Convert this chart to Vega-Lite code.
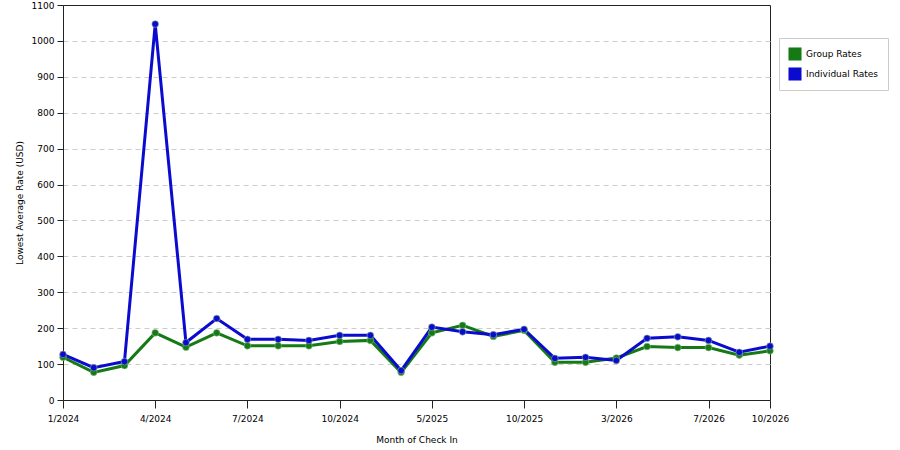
{
  "$schema": "https://vega.github.io/schema/vega-lite/v6.json",
  "width": 707,
  "height": 395,
  "autosize": "none",
  "padding": {"left": 63, "top": 5, "right": 130, "bottom": 50},
  "background": "white",
  "config": {
    "font": "DejaVu Sans",
    "view": {"stroke": "#222222", "strokeWidth": 1},
    "axis": {"labelFont": "DejaVu Sans", "titleFont": "DejaVu Sans", "labelFontSize": 9, "titleFontSize": 9, "titleFontWeight": "normal", "labelColor": "#000000", "titleColor": "#000000", "domainColor": "#222222", "tickColor": "#222222"}
  },
  "data": {
    "values": [
      {"month": "1/2024", "series": "Group Rates", "rate": 119},
      {"month": "2/2024", "series": "Group Rates", "rate": 77},
      {"month": "3/2024", "series": "Group Rates", "rate": 96},
      {"month": "4/2024", "series": "Group Rates", "rate": 187},
      {"month": "5/2024", "series": "Group Rates", "rate": 147},
      {"month": "6/2024", "series": "Group Rates", "rate": 187},
      {"month": "7/2024", "series": "Group Rates", "rate": 151},
      {"month": "8/2024", "series": "Group Rates", "rate": 151},
      {"month": "9/2024", "series": "Group Rates", "rate": 151},
      {"month": "10/2024", "series": "Group Rates", "rate": 163},
      {"month": "11/2024", "series": "Group Rates", "rate": 166},
      {"month": "4/2025", "series": "Group Rates", "rate": 77},
      {"month": "5/2025", "series": "Group Rates", "rate": 187},
      {"month": "6/2025", "series": "Group Rates", "rate": 208},
      {"month": "8/2025", "series": "Group Rates", "rate": 177},
      {"month": "10/2025", "series": "Group Rates", "rate": 194},
      {"month": "11/2025", "series": "Group Rates", "rate": 105},
      {"month": "1/2026", "series": "Group Rates", "rate": 105},
      {"month": "3/2026", "series": "Group Rates", "rate": 117},
      {"month": "4/2026", "series": "Group Rates", "rate": 149},
      {"month": "5/2026", "series": "Group Rates", "rate": 146},
      {"month": "7/2026", "series": "Group Rates", "rate": 146},
      {"month": "8/2026", "series": "Group Rates", "rate": 125},
      {"month": "10/2026", "series": "Group Rates", "rate": 137},
      {"month": "1/2024", "series": "Individual Rates", "rate": 127},
      {"month": "2/2024", "series": "Individual Rates", "rate": 90},
      {"month": "3/2024", "series": "Individual Rates", "rate": 107},
      {"month": "4/2024", "series": "Individual Rates", "rate": 1047},
      {"month": "5/2024", "series": "Individual Rates", "rate": 160},
      {"month": "6/2024", "series": "Individual Rates", "rate": 227},
      {"month": "7/2024", "series": "Individual Rates", "rate": 169},
      {"month": "8/2024", "series": "Individual Rates", "rate": 169},
      {"month": "9/2024", "series": "Individual Rates", "rate": 166},
      {"month": "10/2024", "series": "Individual Rates", "rate": 180},
      {"month": "11/2024", "series": "Individual Rates", "rate": 180},
      {"month": "4/2025", "series": "Individual Rates", "rate": 82},
      {"month": "5/2025", "series": "Individual Rates", "rate": 203},
      {"month": "6/2025", "series": "Individual Rates", "rate": 190},
      {"month": "8/2025", "series": "Individual Rates", "rate": 182},
      {"month": "10/2025", "series": "Individual Rates", "rate": 197},
      {"month": "11/2025", "series": "Individual Rates", "rate": 116},
      {"month": "1/2026", "series": "Individual Rates", "rate": 119},
      {"month": "3/2026", "series": "Individual Rates", "rate": 110},
      {"month": "4/2026", "series": "Individual Rates", "rate": 172},
      {"month": "5/2026", "series": "Individual Rates", "rate": 176},
      {"month": "7/2026", "series": "Individual Rates", "rate": 166},
      {"month": "8/2026", "series": "Individual Rates", "rate": 133},
      {"month": "10/2026", "series": "Individual Rates", "rate": 150}
    ]
  },
  "encoding": {
    "x": {
      "field": "month", "type": "nominal", "sort": null,
      "scale": {"type": "point", "padding": 0},
      "axis": {"title": "Month of Check In", "labelAngle": 0, "values": ["1/2024", "4/2024", "7/2024", "10/2024", "5/2025", "10/2025", "3/2026", "7/2026", "10/2026"], "tickSize": 8, "labelPadding": 6, "titlePadding": 12, "grid": false}
    },
    "y": {
      "field": "rate", "type": "quantitative",
      "scale": {"domain": [0, 1100], "nice": false},
      "axis": {"title": "Lowest Average Rate (USD)", "format": "d", "values": [0,100,200,300,400,500,600,700,800,900,1000,1100], "tickSize": 6, "labelPadding": 3, "titlePadding": 7, "grid": true, "gridDash": [5, 4], "gridColor": "#cccccc",
        "gridOpacity": {"condition": {"test": "datum.value >= 1100", "value": 0}, "value": 1}}
    },
    "color": {
      "field": "series", "type": "nominal",
      "scale": {"domain": ["Group Rates", "Individual Rates"], "range": ["#157a15", "#0b0bd0"]}
    }
  },
  "layer": [
    {
      "mark": {"type": "line", "strokeWidth": 3},
      "encoding": {
        "color": {
          "field": "series", "type": "nominal",
          "scale": {"domain": ["Group Rates", "Individual Rates"], "range": ["#157a15", "#0b0bd0"]},
          "legend": {
            "title": null, "orient": "none", "legendX": 716, "legendY": 33,
            "symbolType": "square", "symbolSize": 170, "symbolStrokeWidth": 0,
            "symbolFillColor": null,
            "labelFontSize": 9, "labelFont": "DejaVu Sans", "labelColor": "#000000",
            "fillColor": "white", "strokeColor": "#cccccc", "padding": 9, "rowPadding": 6,
            "labelLimit": 200
          }
        }
      }
    },
    {
      "mark": {"type": "point", "filled": true, "size": 45, "opacity": 1, "stroke": "#88bb88", "strokeOpacity": 0.6, "strokeWidth": 1},
      "encoding": {
        "color": {"field": "series", "type": "nominal", "legend": null,
          "scale": {"domain": ["Group Rates", "Individual Rates"], "range": ["#157a15", "#0b0bd0"]}}
      }
    }
  ]
}
